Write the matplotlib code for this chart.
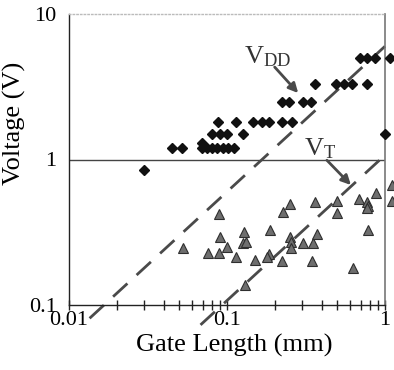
import matplotlib
matplotlib.use('Agg')
import matplotlib.pyplot as plt
import numpy as np

plt.rcParams['font.family'] = ['Liberation Serif', 'DejaVu Serif']
plt.rcParams['mathtext.fontset'] = 'custom'
plt.rcParams['mathtext.rm'] = 'Liberation Serif'
plt.rcParams['mathtext.it'] = 'Liberation Serif'

# supply voltage points (gate length, V)
vdd_L = [0.030,
         0.045, 0.052, 0.069, 0.075, 0.080, 0.087, 0.094, 0.102, 0.111, 0.069,
         0.080, 0.090, 0.100, 0.127, 1.0,
         0.088, 0.114, 0.147, 0.167, 0.185, 0.222, 0.256,
         0.222, 0.248, 0.304, 0.339,
         0.361, 0.493, 0.551, 0.618, 0.769,
         0.695, 0.766, 0.865, 1.076]
vdd_V = [0.85,
         1.2, 1.2, 1.2, 1.2, 1.2, 1.2, 1.2, 1.2, 1.2, 1.3,
         1.5, 1.5, 1.5, 1.5, 1.5,
         1.8, 1.8, 1.8, 1.8, 1.8, 1.8, 1.8,
         2.5, 2.5, 2.5, 2.5,
         3.3, 3.3, 3.3, 3.3, 3.3,
         5.0, 5.0, 5.0, 5.0]

# threshold voltage points
vt_L = [0.0525, 0.0887, 0.0904, 0.0755, 0.0893, 0.100, 0.114, 0.128, 0.127,
        0.132, 0.130, 0.150, 0.185, 0.180, 0.187, 0.227, 0.251, 0.222, 0.251,
        0.253, 0.253, 0.304, 0.348, 0.370, 0.344, 0.361, 0.494, 0.494, 0.625,
        0.687, 0.766, 0.778, 0.766, 0.778, 0.877, 1.10, 1.10]
vt_V = [0.245, 0.420, 0.295, 0.229, 0.229, 0.252, 0.213, 0.316, 0.268,
        0.273, 0.137, 0.204, 0.224, 0.213, 0.327, 0.438, 0.492, 0.201, 0.295,
        0.273, 0.245, 0.268, 0.268, 0.306, 0.201, 0.508, 0.521, 0.431, 0.179,
        0.532, 0.513, 0.479, 0.462, 0.327, 0.591, 0.668, 0.521]

# dashed trend lines
vdd_fit_L = [0.0135, 1.0]
vdd_fit_V = [0.081, 6.0]
vt_fit_L = [0.068, 0.97]
vt_fit_V = [0.073, 1.04]

fig = plt.figure(figsize=(3.94, 3.70), dpi=100)
ax = fig.add_axes([69/394, 1-305/370, 316/394, 291/370])
ax.set_xscale('log')
ax.set_yscale('log')
ax.set_xlim(0.01, 1)
ax.set_ylim(0.1, 10)

ax.axhline(1.0, color='#444444', lw=1.0, zorder=1)

ax.plot(vdd_fit_L, vdd_fit_V, color='#4a4a4a', lw=2.0, dashes=(7, 4.5),
        clip_on=False, zorder=2)
ax.plot(vt_fit_L, vt_fit_V, color='#4a4a4a', lw=2.0, dashes=(7, 4.5),
        clip_on=False, zorder=2)

ax.plot(vdd_L, vdd_V, ls='none', marker='D', ms=4.8, color='#111111',
        clip_on=False, zorder=3)
ax.plot(vt_L, vt_V, ls='none', marker='^', ms=7, markerfacecolor='#6e6e6e',
        markeredgecolor='#2e2e2e', markeredgewidth=0.8, clip_on=False, zorder=3)

ax.annotate('', xy=(0.29, 2.77), xytext=(0.195, 4.46),
            arrowprops=dict(arrowstyle='-|>', color='#4a4a4a', lw=2,
                            mutation_scale=14))
ax.annotate('', xy=(0.626, 0.647), xytext=(0.417, 1.02),
            arrowprops=dict(arrowstyle='-|>', color='#4a4a4a', lw=2,
                            mutation_scale=14))
ax.text(0.128, 4.6, r'V$_{\mathrm{DD}}$', fontsize=19, color='#333333')
ax.text(0.305, 1.06, r'V$_{\mathrm{T}}$', fontsize=19, color='#333333')

for s in ['left', 'bottom']:
    ax.spines[s].set_color('#222222')
    ax.spines[s].set_linewidth(1.0)
ax.spines['right'].set_color('#777777')
ax.spines['right'].set_linewidth(1.2)
ax.spines['top'].set_color('#bbbbbb')
ax.spines['top'].set_linestyle(':')
ax.spines['top'].set_linewidth(1.0)

ax.set_xticks([0.01, 0.1, 1])
ax.set_xticklabels(['0.01', '0.1', '1'])
ax.set_yticks([0.1, 1, 10])
ax.set_yticklabels(['0.1', '1', '10'])
ax.tick_params(axis='x', which='both', direction='inout', length=7,
               width=1, color='#222222', labelsize=16, pad=1)
ax.tick_params(axis='y', which='both', length=0, labelsize=16, pad=9)
ax.yaxis.set_minor_locator(matplotlib.ticker.NullLocator())

ax.set_xlabel('Gate Length (mm)', fontsize=19)
ax.set_ylabel('Voltage (V)', fontsize=19)
ax.xaxis.set_label_coords(0.522, -0.098)
ax.yaxis.set_label_coords(-0.135, 0.625)

fig.savefig('out.png', dpi=100)
